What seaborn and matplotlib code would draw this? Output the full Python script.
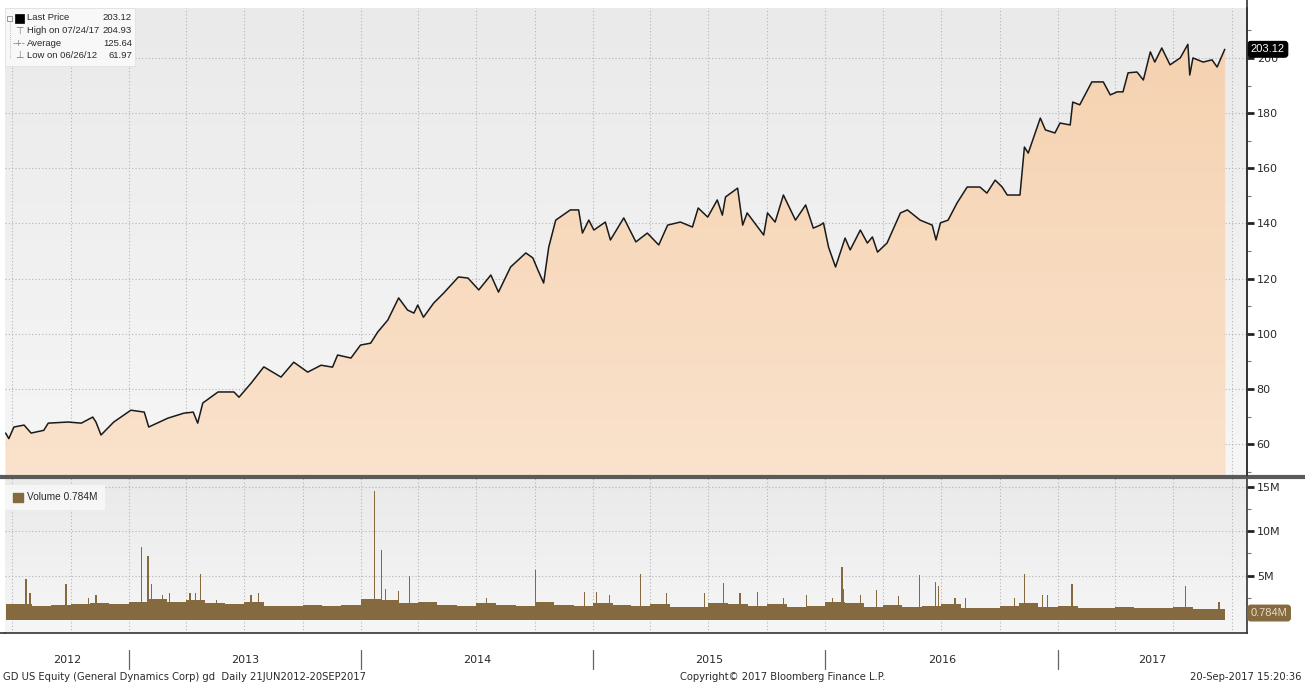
import numpy as np
import pandas as pd
import matplotlib
matplotlib.use("Agg")
import matplotlib.pyplot as plt
import matplotlib.dates as mdates
import matplotlib.transforms as mtransforms
from matplotlib.lines import Line2D
from matplotlib.patches import Rectangle
from matplotlib.colors import LinearSegmentedColormap
import seaborn as sns

# ---------------- data ----------------
price_dates = [
    "2012-06-21", "2012-06-26", "2012-07-04", "2012-07-20", "2012-07-31", "2012-08-20", "2012-08-27",
    "2012-09-27", "2012-10-18", "2012-11-05", "2012-11-10", "2012-11-18", "2012-12-08",
    "2013-01-04", "2013-01-25", "2013-02-01", "2013-03-03", "2013-03-28", "2013-04-12", "2013-04-19",
    "2013-04-27", "2013-05-21", "2013-06-15", "2013-06-23", "2013-07-12", "2013-08-01", "2013-08-28",
    "2013-09-17", "2013-10-09", "2013-10-30", "2013-11-17", "2013-11-25", "2013-12-16", "2013-12-31",
    "2014-01-16", "2014-01-27", "2014-02-12", "2014-03-01", "2014-03-15", "2014-03-25", "2014-03-31",
    "2014-04-09", "2014-04-25", "2014-05-11", "2014-06-03", "2014-06-18", "2014-07-05", "2014-07-24",
    "2014-08-05", "2014-08-24", "2014-09-17", "2014-09-28", "2014-10-06", "2014-10-15", "2014-10-23",
    "2014-11-03", "2014-11-26", "2014-12-09", "2014-12-15", "2014-12-25",
    "2015-01-02", "2015-01-20", "2015-01-28", "2015-02-18", "2015-03-09", "2015-03-27", "2015-04-14",
    "2015-04-28", "2015-05-18", "2015-06-06", "2015-06-15", "2015-06-30", "2015-07-15", "2015-07-23",
    "2015-07-28", "2015-08-16", "2015-08-24", "2015-08-31", "2015-09-26", "2015-10-02", "2015-10-14",
    "2015-10-27", "2015-11-15", "2015-12-01", "2015-12-13", "2015-12-24", "2015-12-29",
    "2016-01-06", "2016-01-17", "2016-02-01", "2016-02-09", "2016-02-25", "2016-03-07", "2016-03-15",
    "2016-03-23", "2016-04-07", "2016-04-28", "2016-05-09", "2016-05-29", "2016-06-17", "2016-06-23",
    "2016-06-30", "2016-07-12", "2016-07-26", "2016-08-11", "2016-08-31", "2016-09-11", "2016-09-24",
    "2016-10-05", "2016-10-13", "2016-11-02", "2016-11-09", "2016-11-15", "2016-12-04", "2016-12-12",
    "2016-12-27",
    "2017-01-04", "2017-01-20", "2017-01-24", "2017-02-04", "2017-02-23", "2017-03-13", "2017-03-24",
    "2017-04-04", "2017-04-13", "2017-04-21", "2017-05-05", "2017-05-15", "2017-05-26", "2017-06-02",
    "2017-06-13", "2017-06-26", "2017-07-12", "2017-07-24", "2017-07-27", "2017-08-01", "2017-08-17",
    "2017-08-31", "2017-09-08", "2017-09-20",
]
price_values = [
    64.0, 62.0, 66.2, 66.9, 64.0, 65.0, 67.6,
    68.0, 67.6, 69.8, 68.0, 63.3, 68.0,
    72.3, 71.6, 66.2, 69.4, 71.2, 71.6, 67.6,
    74.9, 78.9, 78.9, 77.0, 82.1, 88.0, 84.3,
    89.7, 86.1, 88.6, 87.9, 92.3, 91.2, 95.9,
    96.6, 100.6, 105.0, 113.0, 108.6, 107.5, 110.4,
    106.0, 111.1, 114.8, 120.6, 120.2, 115.9, 121.3,
    115.1, 124.2, 129.3, 127.5, 123.1, 118.4, 131.4,
    141.2, 144.9, 144.9, 136.5, 141.2,
    137.6, 140.5, 134.0, 142.0, 133.3, 136.5, 132.2,
    139.4, 140.5, 138.7, 145.6, 142.3, 148.5, 143.0,
    149.6, 152.8, 139.4, 143.8, 135.8, 143.8, 140.5,
    150.3, 141.2, 146.7, 138.3, 139.4, 140.2,
    131.4, 124.2, 134.7, 130.4, 137.6, 132.9, 135.1,
    129.6, 132.9, 143.8, 144.9, 141.2, 139.4, 134.0,
    140.2, 141.2, 147.4, 153.2, 153.2, 151.0, 155.7,
    153.2, 150.3, 150.3, 167.7, 165.5, 178.2, 173.9,
    172.8,
    176.4, 175.7, 184.0, 183.0, 191.3, 191.3, 186.6,
    187.7, 187.7, 194.6, 194.9, 192.0, 202.2, 198.5,
    203.6, 197.5, 200.0, 204.93, 193.8, 200.0, 198.5,
    199.3, 196.7, 203.12,
]

# typical monthly volume level (millions), Jun 2012 .. Sep 2017
vol_months = pd.date_range("2012-06-01", "2017-09-01", freq="MS")
vol_base = [
    1.8, 1.8, 1.6, 1.7, 1.8, 1.9, 1.8,
    2.0, 2.4, 2.0, 2.2, 1.9, 1.8, 2.0, 1.6, 1.6, 1.7, 1.6, 1.7,
    2.4, 2.2, 1.9, 2.0, 1.7, 1.6, 1.9, 1.7, 1.6, 2.0, 1.7, 1.6,
    1.9, 1.7, 1.6, 1.8, 1.5, 1.5, 1.9, 1.8, 1.6, 1.8, 1.5, 1.6,
    2.0, 1.9, 1.5, 1.7, 1.5, 1.6, 1.8, 1.4, 1.4, 1.6, 1.9, 1.5,
    1.6, 1.4, 1.3, 1.5, 1.3, 1.3, 1.5, 1.2, 1.2,
]
# high-volume days (millions)
spike_dates = [
    "2012-07-23", "2012-07-29", "2012-09-24", "2012-10-29", "2012-11-10",
    "2013-01-21", "2013-01-31", "2013-02-05", "2013-02-23", "2013-03-06", "2013-04-07", "2013-04-16",
    "2013-04-23", "2013-05-19", "2013-07-12", "2013-07-24",
    "2014-01-22", "2014-02-02", "2014-02-08", "2014-03-01", "2014-03-18", "2014-07-17", "2014-10-02",
    "2014-12-18",
    "2015-01-06", "2015-01-27", "2015-03-16", "2015-04-26", "2015-06-25", "2015-07-25", "2015-08-20",
    "2015-09-16", "2015-10-27", "2015-12-02",
    "2016-01-12", "2016-01-27", "2016-01-29", "2016-02-25", "2016-03-21", "2016-04-25", "2016-05-28",
    "2016-06-22", "2016-06-27", "2016-07-23", "2016-08-08", "2016-10-24", "2016-11-09", "2016-12-07",
    "2016-12-15",
    "2017-01-23", "2017-07-20", "2017-09-11", "2017-09-20",
]
spike_values = [
    4.6, 3.0, 4.0, 2.5, 2.8,
    8.2, 7.2, 4.0, 2.8, 3.0, 3.0, 3.0,
    5.2, 2.3, 2.8, 3.0,
    14.5, 7.9, 3.5, 3.3, 5.0, 2.5, 5.6,
    3.2,
    3.2, 2.8, 5.2, 3.0, 3.0, 4.2, 3.0,
    3.2, 2.5, 2.8,
    2.5, 6.0, 3.5, 2.8, 3.4, 2.7, 5.1,
    4.3, 3.8, 2.5, 2.5, 2.5, 5.2, 2.8,
    2.8,
    4.0, 3.8, 2.0, 0.784,
]

price_ticks = [60, 80, 100, 120, 140, 160, 180, 200]
vol_ticks = [5, 10, 15]
vol_tick_labels = ["5M", "10M", "15M"]
years = [2012, 2013, 2014, 2015, 2016, 2017]

legend_rows = [("Last Price", "203.12"), ("High on 07/24/17", "204.93"),
               ("Average", "125.64"), ("Low on 06/26/12", "61.97")]
footer_left = "GD US Equity (General Dynamics Corp) gd  Daily 21JUN2012-20SEP2017"
footer_mid = "Copyright\u00a9 2017 Bloomberg Finance L.P."
footer_right = "20-Sep-2017 15:20:36"

# ---------------- style ----------------
sns.set_style("white")
plt.rcParams["font.family"] = ["DejaVu Sans"]
NARROW = ["Liberation Sans Narrow", "Liberation Sans", "DejaVu Sans"]

W, H = 1305, 684
fig = plt.figure(figsize=(W / 100, H / 100), dpi=100)
fig.patch.set_facecolor("white")


def px_axes(x0, y0, x1, y1):
    return fig.add_axes([x0 / W, 1 - y1 / H, (x1 - x0) / W, (y1 - y0) / H])


ax = px_axes(5, 8, 1247, 475)
axv = px_axes(5, 478, 1247, 633)

df = pd.DataFrame({"date": pd.to_datetime(price_dates), "price": price_values})
xmin, xmax = pd.Timestamp("2012-06-20"), pd.Timestamp("2017-10-25")
xn0, xn1 = mdates.date2num(xmin), mdates.date2num(xmax)

GRID = "#b4b4b4"
BROWN = "#85693f"
TXT = "#2a2a2a"

# background gradients
grad = np.linspace(0, 1, 256).reshape(-1, 1)
bg_cmap = LinearSegmentedColormap.from_list("bg", ["#eaeaea", "#f6f6f6"])
for a in (ax, axv):
    a.imshow(grad, extent=[0, 1, 0, 1], transform=a.transAxes, aspect="auto",
             cmap=bg_cmap, origin="upper", zorder=0)

# ---------------- price panel ----------------
ax.set_xlim(xmin, xmax)
ax.set_ylim(48.8, 218.1)
fill = ax.fill_between(df["date"], df["price"], 0, color="#f8dcc0", lw=0, zorder=1)
fill_cmap = LinearSegmentedColormap.from_list("fill", ["#fae2cc", "#f5d1ae"])
im = ax.imshow(grad, extent=[xn0, xn1, 48.8, 218.1], aspect="auto", cmap=fill_cmap,
               origin="lower", zorder=1.5)
im.set_clip_path(fill.get_paths()[0], transform=ax.transData)
ax.set_xlim(xmin, xmax)
ax.set_ylim(48.8, 218.1)
sns.lineplot(data=df, x="date", y="price", ax=ax, color="#1a1a1a", lw=1.1, zorder=3)

ax.yaxis.tick_right()
ax.set_yticks(price_ticks)
ax.set_yticklabels([str(t) for t in price_ticks])
ax.set_yticks(np.arange(50, 220, 10), minor=True)
ax.tick_params(axis="y", which="major", direction="out", length=5, width=2, color="#222",
               labelsize=8, labelcolor=TXT, pad=2)
ax.tick_params(axis="y", which="minor", direction="out", length=3, width=0.8, color="#777")
ax.set_xlabel("")
ax.set_ylabel("")
for a in (ax, axv):
    a.xaxis.set_major_locator(mdates.MonthLocator(bymonth=[1, 4, 7, 10]))
    a.xaxis.set_minor_locator(mdates.MonthLocator())
    a.grid(True, which="major", axis="both", color=GRID, linestyle=(0, (1, 2)), lw=0.8, zorder=2)
    for s in ("top", "left", "bottom"):
        a.spines[s].set_visible(False)
    a.spines["right"].set_color("#333")
    a.spines["right"].set_linewidth(1.2)
ax.tick_params(axis="x", which="both", bottom=False, labelbottom=False)

# last price tag (covers the top tick label, as in the terminal chart)
ax.text(1.003, price_values[-1], "203.12",
        transform=mtransforms.blended_transform_factory(ax.transAxes, ax.transData),
        fontsize=8, family=NARROW, color="white", va="center", ha="left", zorder=10, clip_on=False,
        bbox=dict(boxstyle="round,pad=0.25", fc="black", ec="black"))

# ---------------- volume panel ----------------
axv.set_xlim(xmin, xmax)
axv.set_ylim(-1.46, 15.96)
first, last = pd.Timestamp(price_dates[0]), pd.Timestamp(price_dates[-1])
starts, widths = [], []
for m in vol_months:
    s = max(m, first)
    e = min(m + pd.offsets.MonthBegin(1), last + pd.Timedelta(days=1))
    starts.append(mdates.date2num(s))
    widths.append(mdates.date2num(e) - mdates.date2num(s))
axv.bar(starts, vol_base, width=widths, align="edge", color=BROWN, lw=0, zorder=3)
axv.bar(mdates.date2num(pd.to_datetime(spike_dates)), spike_values, width=2.2, color=BROWN,
        lw=0, zorder=3)

axv.yaxis.tick_right()
axv.set_yticks(vol_ticks)
axv.set_yticklabels(vol_tick_labels)
axv.set_yticks([2.5, 7.5, 12.5], minor=True)
axv.tick_params(axis="y", which="major", direction="out", length=5, width=2, color="#222",
                labelsize=8, labelcolor=TXT, pad=2)
axv.tick_params(axis="y", which="minor", direction="out", length=3, width=0.8, color="#777")
axv.spines["bottom"].set_visible(True)
axv.spines["bottom"].set_color("#333")
axv.spines["bottom"].set_linewidth(1.2)
axv.tick_params(axis="x", which="both", direction="inout", length=6, width=0.8, color="#444",
                labelbottom=False)

axv.text(1.003, 0.784, "0.784M", transform=mtransforms.blended_transform_factory(axv.transAxes, axv.transData),
         fontsize=8, family=NARROW, color="#e8dcc4", va="center", ha="left", zorder=10, clip_on=False,
         bbox=dict(boxstyle="round,pad=0.25", fc=BROWN, ec=BROWN))

# year labels and separators under the volume panel
btr = mtransforms.blended_transform_factory(axv.transData, axv.transAxes)
for y in years:
    y0 = max(pd.Timestamp(f"{y}-01-01"), xmin)
    y1 = min(pd.Timestamp(f"{y + 1}-01-01"), xmax)
    mid = mdates.date2num(y0) + (mdates.date2num(y1) - mdates.date2num(y0)) / 2
    axv.text(mid, -0.175, str(y), transform=btr, ha="center", va="center", fontsize=8,
             color=TXT, clip_on=False)
    if y > years[0]:
        xb = mdates.date2num(pd.Timestamp(f"{y}-01-01"))
        axv.plot([xb, xb], [-0.11, -0.235], transform=btr, color="#666", lw=0.9, clip_on=False)

# ---------------- figure decorations ----------------
fig.add_artist(Line2D([0, 1], [1 - 476.5 / H] * 2, transform=fig.transFigure, color="#5a5a5a", lw=3))
fig.add_artist(Line2D([1247 / W] * 2, [1, 1 - 476 / H], transform=fig.transFigure, color="#333", lw=1.2))
fig.add_artist(Line2D([0, 5 / W], [1 - 633 / H] * 2, transform=fig.transFigure, color="#333", lw=1.2))

# price legend box
fig.add_artist(Rectangle((5 / W, 1 - 66 / H), 130 / W, 58 / H, transform=fig.transFigure,
                         fc="#f9f9f9", ec="#dddddd", lw=0.5, alpha=0.95, zorder=5))
row_y = [18, 30.5, 43, 55.5]
for (lab, val), ry in zip(legend_rows, row_y):
    fig.text(27 / W, 1 - ry / H, lab, fontsize=6.8, family=NARROW, color=TXT, va="center",
             ha="left", zorder=6)
    fig.text(132 / W, 1 - ry / H, val, fontsize=6.8, family=NARROW, color=TXT, va="center",
             ha="right", zorder=6)
fig.add_artist(Rectangle((7 / W, 1 - 21 / H), 5 / W, 5 / H, transform=fig.transFigure,
                         fc="none", ec="#888", lw=0.6, zorder=6))
fig.add_artist(Rectangle((15 / W, 1 - 23 / H), 9 / W, 9 / H, transform=fig.transFigure,
                         fc="black", ec="black", lw=0.5, zorder=6))
fig.add_artist(Line2D([9.5 / W] * 2, [1 - 22 / H, 1 - 58 / H], transform=fig.transFigure,
                      color="#aaa", lw=0.6, ls=(0, (1, 1.5)), zorder=6))
fig.text(19 / W, 1 - 30.5 / H, "\u22a4", fontsize=7, color="#777", ha="center", va="center", zorder=6)
fig.text(19 / W, 1 - 43 / H, "-+-", fontsize=6, color="#777", ha="center", va="center", zorder=6)
fig.text(19 / W, 1 - 55.5 / H, "\u22a5", fontsize=7, color="#777", ha="center", va="center", zorder=6)

# volume legend box
fig.add_artist(Rectangle((5 / W, 1 - 510 / H), 100 / W, 25 / H, transform=fig.transFigure,
                         fc="#f7f7f7", ec="none", alpha=0.95, zorder=5))
fig.add_artist(Rectangle((13 / W, 1 - 502 / H), 10 / W, 9 / H, transform=fig.transFigure,
                         fc=BROWN, ec=BROWN, zorder=6))
fig.text(27 / W, 1 - 497 / H, "Volume 0.784M", fontsize=7.3, family=NARROW, color=TXT,
         va="center", ha="left", zorder=6)

# footer
fig.text(3 / W, 1 - 677 / H, footer_left, fontsize=7.2, color=TXT, va="center", ha="left")
fig.text(680 / W, 1 - 677 / H, footer_mid, fontsize=7.2, color=TXT, va="center", ha="left")
fig.text(1302 / W, 1 - 677 / H, footer_right, fontsize=7.2, color=TXT, va="center", ha="right")

fig.savefig("out.png", dpi=100)
